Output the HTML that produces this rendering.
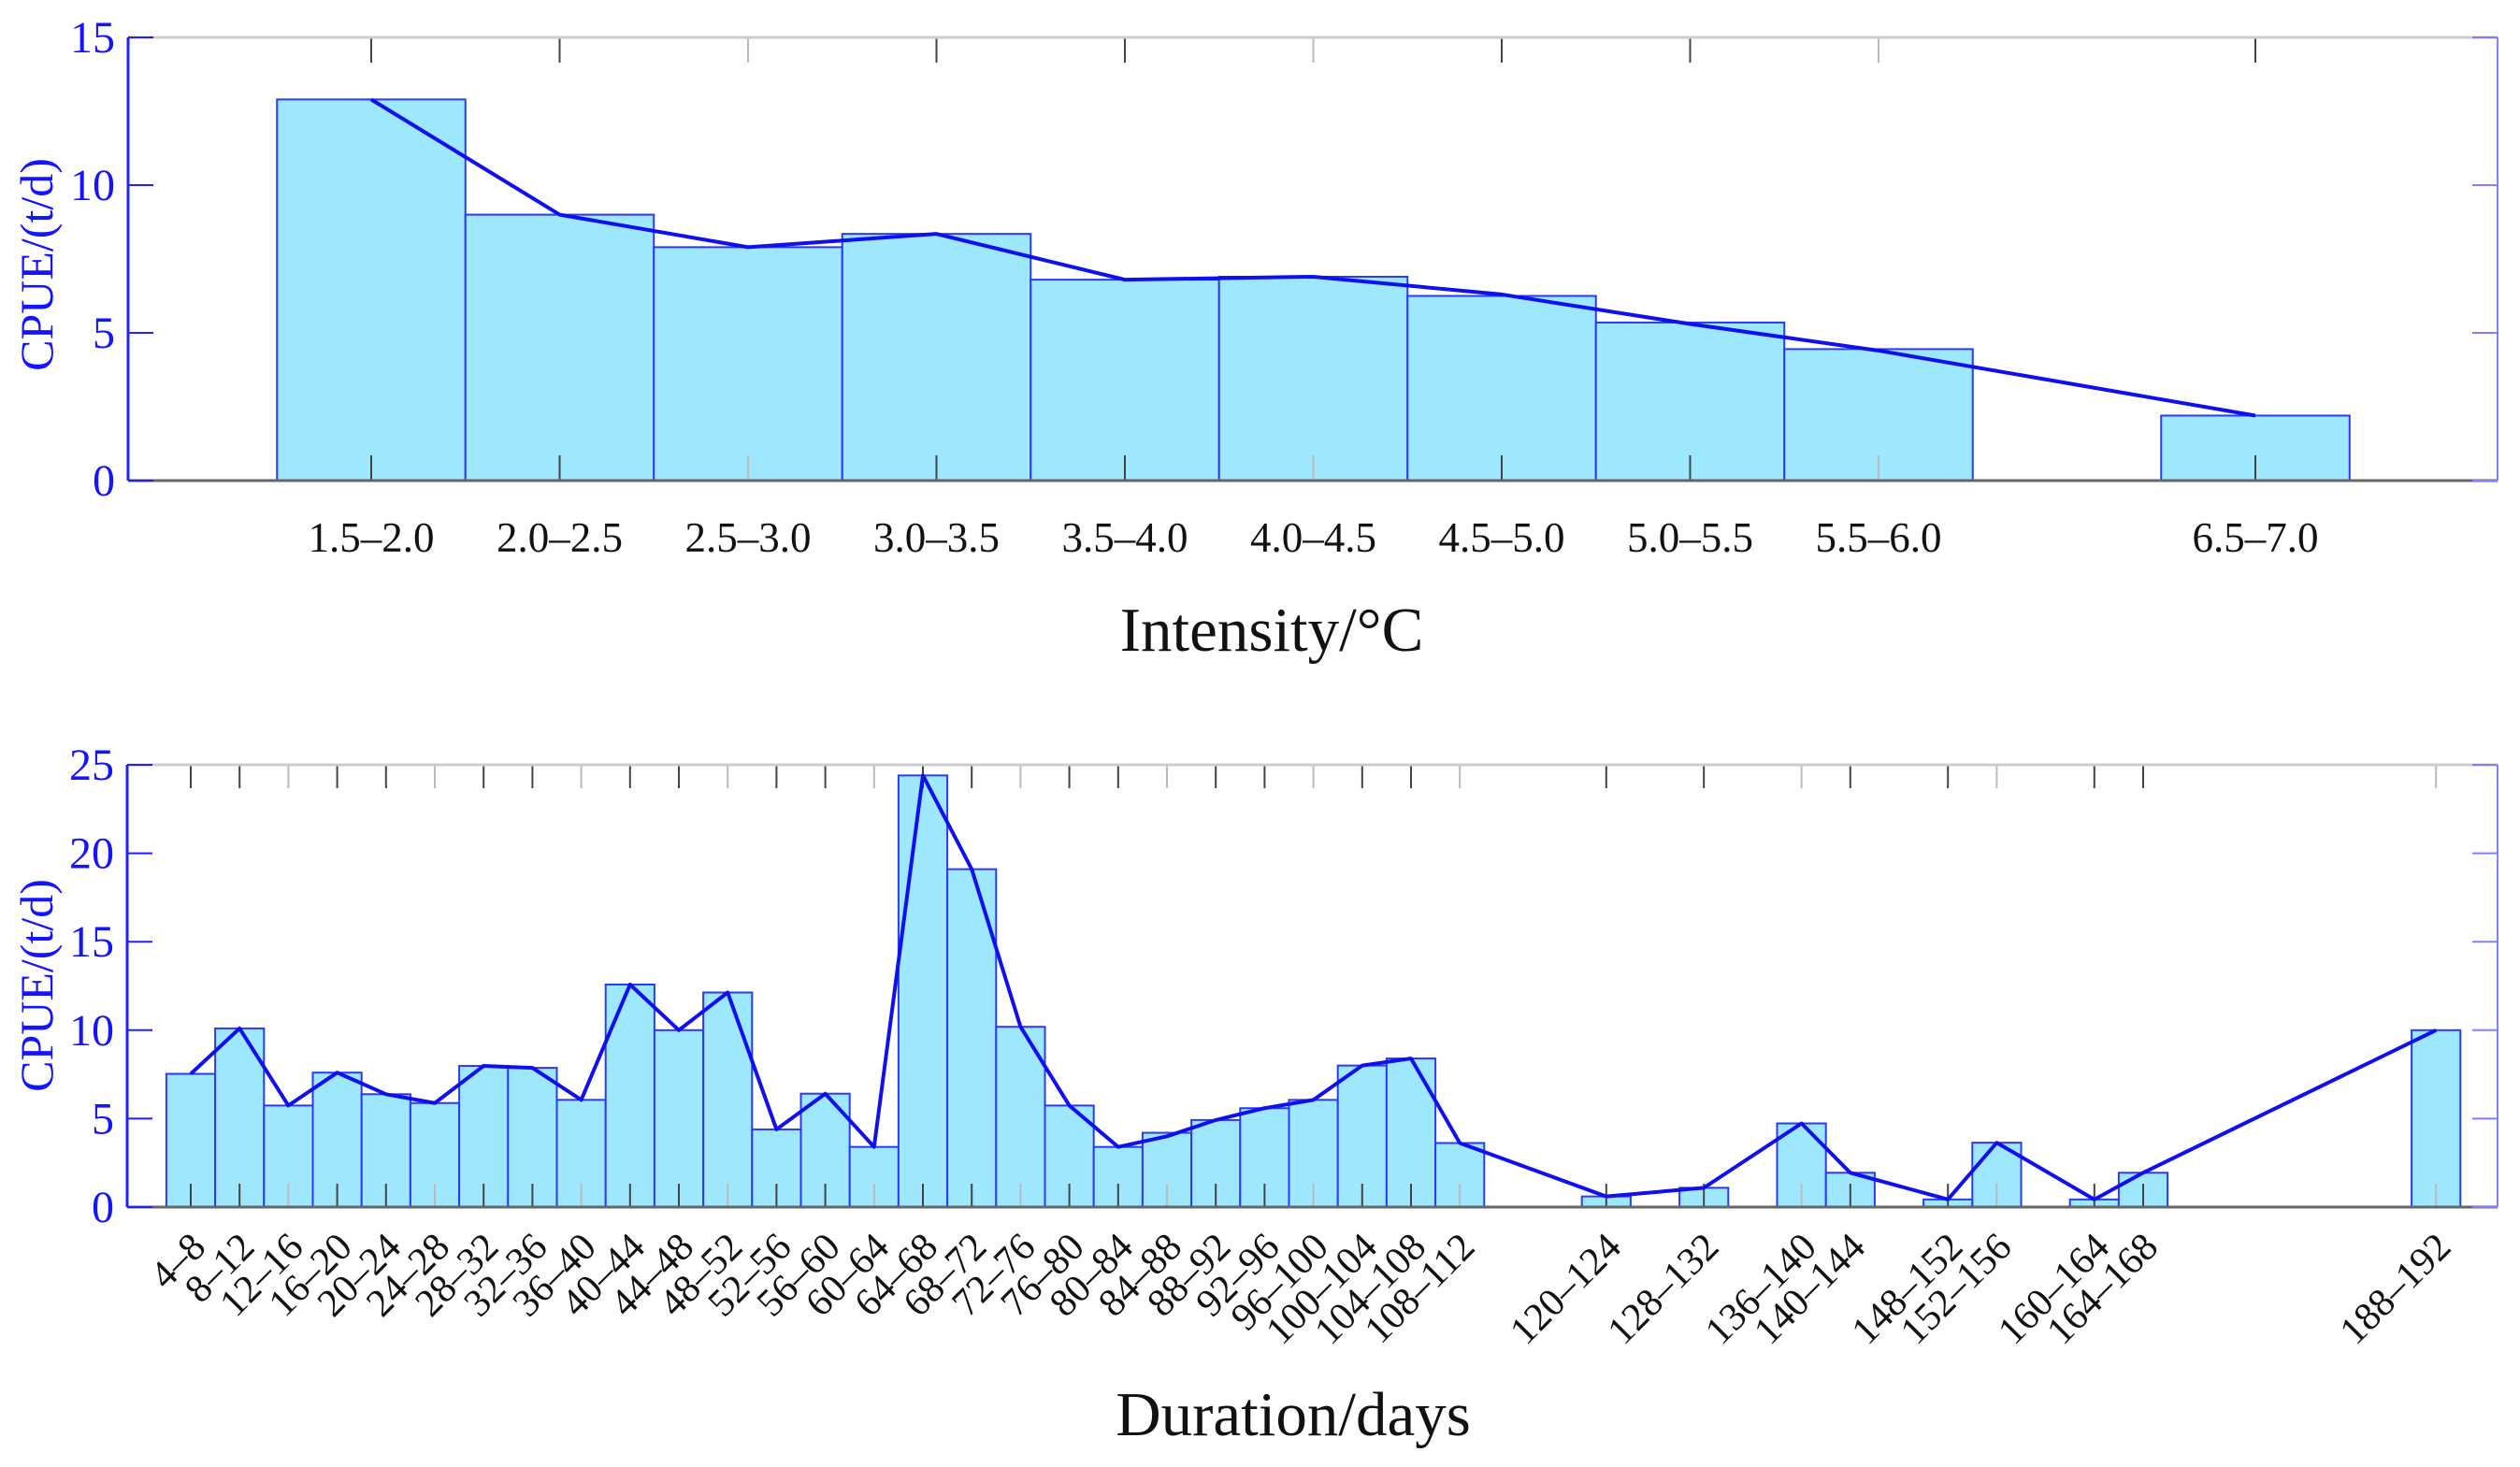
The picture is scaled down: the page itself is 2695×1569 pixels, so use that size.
<!DOCTYPE html>
<html><head><meta charset="utf-8"><style>
html,body{margin:0;padding:0;background:#fff;}
svg{display:block;font-family:"Liberation Serif",serif;}
</style></head><body>
<svg id="chart" width="2695" height="1569" viewBox="0 0 2695 1569" xmlns="http://www.w3.org/2000/svg"></svg>
<script>
// ---- Top chart data ----
const topCategories = ["1.5–2.0","2.0–2.5","2.5–3.0","3.0–3.5","3.5–4.0","4.0–4.5","4.5–5.0","5.0–5.5","5.5–6.0","6.5–7.0"];
const topSlots = [0,1,2,3,4,5,6,7,8,10];
const topBarValues = [12.9,9.0,7.9,8.35,6.8,6.9,6.25,5.35,4.45,2.2];
const topLineValues = [12.9,9.0,7.9,8.35,6.8,6.9,6.3,5.3,4.4,2.2];
const topYTicks = [0,5,10,15];
// ---- Bottom chart data ----
const botCategories = ["4–8","8–12","12–16","16–20","20–24","24–28","28–32","32–36","36–40","40–44","44–48","48–52","52–56","56–60","60–64","64–68","68–72","72–76","76–80","80–84","84–88","88–92","92–96","96–100","100–104","104–108","108–112","120–124","128–132","136–140","140–144","148–152","152–156","160–164","164–168","188–192"];
const botSlots = [0,1,2,3,4,5,6,7,8,9,10,11,12,13,14,15,16,17,18,19,20,21,22,23,24,25,26,29,31,33,34,36,37,39,40,46];
const botBarValues = [7.53,10.1,5.74,7.6,6.38,5.88,7.98,7.87,6.06,12.58,10.0,12.13,4.39,6.41,3.4,24.4,19.1,10.19,5.74,3.4,4.2,4.92,5.59,6.06,8.0,8.4,3.62,0.6,1.09,4.73,1.94,0.43,3.64,0.43,1.94,10.0];
const botLineValues = [7.53,10.1,5.74,7.6,6.38,5.88,7.98,7.87,6.06,12.58,10.0,12.13,4.39,6.41,3.4,24.4,19.1,10.19,5.74,3.4,4.0,4.92,5.59,6.06,8.0,8.4,3.62,0.6,1.09,4.73,1.94,0.43,3.64,0.43,1.94,10.0];
const botYTicks = [0,5,10,15,20,25];

const NS="http://www.w3.org/2000/svg";
const svg=document.getElementById('chart');
function mk(tag,attrs,parent){const e=document.createElementNS(NS,tag);for(const k in attrs)e.setAttribute(k,attrs[k]);(parent||svg).appendChild(e);return e;}

function drawPanel(o){
  const g=mk('g',{});
  
  
  const xs=s=>o.x0+s*o.step;
  const ys=v=>o.yZero-(v/o.yMax)*(o.yZero-o.yTop);
  o.values.forEach((v,i)=>{
    const cx=xs(o.slots[i]);
    const r=mk('rect',{x:cx-o.step/2,y:ys(v),width:o.step,height:o.yZero-ys(v),fill:'#9de7ff',stroke:'#2b3bf5','stroke-width':2},g);
    
    
  });
  o.slots.forEach((s,i)=>{
    const cx=xs(s);
    const c=(i%3===2)?'#bbb':'#444';
    mk('line',{x1:cx,y1:o.yTop,x2:cx,y2:o.yTop+o.tick,stroke:c,'stroke-width':2},g);
    mk('line',{x1:cx,y1:o.yZero,x2:cx,y2:o.yZero-o.tick,stroke:c,'stroke-width':2},g);
  });
  const pts=o.line.map((v,i)=>xs(o.slots[i])+','+ys(v)).join(' ');
  const pl=mk('polyline',{points:pts,fill:'none',stroke:'#1010ee','stroke-width':4,'stroke-linejoin':'round'},g);
  
  
  mk('line',{x1:o.left,y1:o.yTop,x2:o.right,y2:o.yTop,stroke:'#ccc','stroke-width':3},g);
  mk('line',{x1:o.left,y1:o.yZero,x2:o.right,y2:o.yZero,stroke:'#666','stroke-width':3},g);
  mk('line',{x1:o.left,y1:o.yTop,x2:o.left,y2:o.yZero,stroke:'#2020ff','stroke-width':3},g);
  mk('line',{x1:o.right,y1:o.yTop,x2:o.right,y2:o.yZero,stroke:'#8080ff','stroke-width':2},g);
  o.yTicks.forEach(t=>{
    const y=ys(t);
    mk('line',{x1:o.left,y1:y,x2:o.left+27,y2:y,stroke:'#2020ff','stroke-width':2},g);
    mk('line',{x1:o.right,y1:y,x2:o.right-27,y2:y,stroke:'#8080ff','stroke-width':2},g);
    const tl=mk('text',{x:o.left-14,y:y+16,'text-anchor':'end','font-size':48,fill:'#1414ff'},g);
    tl.textContent=t;
    
    
  });
  o.cats.forEach((c,i)=>{
    const cx=xs(o.slots[i]);
    let t;
    if(o.rotate){
      const bx=cx+18,by=1336;
      t=mk('text',{x:bx,y:by,'text-anchor':'end','font-size':42,fill:'#111',transform:'rotate(-45 '+bx+' '+by+')'},g);
    }else{
      t=mk('text',{x:cx,y:o.labelY,'text-anchor':'middle','font-size':45,fill:'#111'},g);
    }
    t.textContent=c;
    
    
  });
  const yt=mk('text',{x:o.yTitleX,y:o.yTitleY,'text-anchor':'middle','font-size':50,fill:'#1414ff',transform:'rotate(-90 '+o.yTitleX+' '+o.yTitleY+')'},g);
  yt.textContent='CPUE/(t/d)';
  
  
  const xt=mk('text',{x:o.xTitleX,y:o.xTitleY,'text-anchor':'middle','font-size':67,fill:'#111'},g);
  xt.textContent=o.xTitle;
  
  
}

drawPanel({name:'intensity-chart',cats:topCategories,slots:topSlots,values:topBarValues,line:topLineValues,yTicks:topYTicks,
  x0:397,step:201.5,left:137,right:2671,yTop:40,yZero:514,yMax:15,tick:27,labelY:590,rotate:false,
  yTitleX:56,yTitleY:283,xTitle:'Intensity/°C',xTitleX:1360,xTitleY:696});
drawPanel({name:'duration-chart',cats:botCategories,slots:botSlots,values:botBarValues,line:botLineValues,yTicks:botYTicks,
  x0:204,step:52.2,left:136,right:2671,yTop:818,yZero:1291,yMax:25,tick:25,rotate:true,
  yTitleX:56,yTitleY:1054,xTitle:'Duration/days',xTitleX:1383,xTitleY:1535});
</script>
</body></html>
